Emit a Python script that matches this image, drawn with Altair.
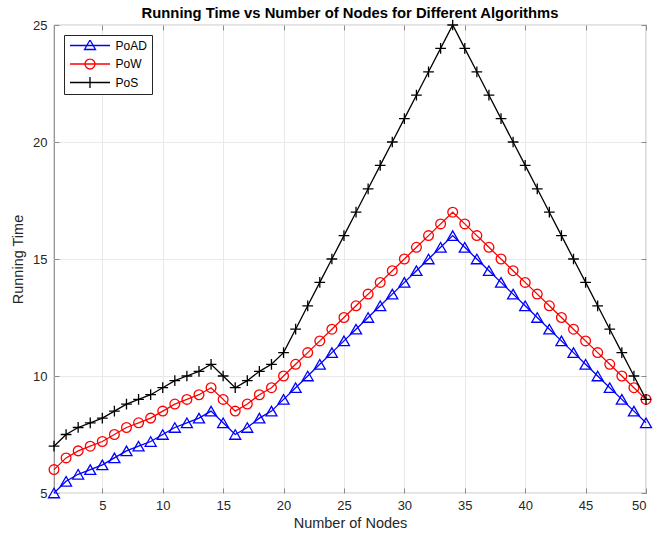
import altair as alt
import pandas as pd

# ---------------- data ----------------
series_names = ["PoAD", "PoW", "PoS"]
series_colors = ["#0000ff", "#ff0000", "#000000"]

nodes = list(range(1, 51))

poad = [5.0, 5.5, 5.8, 6.0, 6.2, 6.5, 6.8, 7.0, 7.2, 7.5,
        7.8, 8.0, 8.2, 8.5, 8.0, 7.5, 7.8, 8.2, 8.5, 9.0,
        9.5, 10.0, 10.5, 11.0, 11.5, 12.0, 12.5, 13.0, 13.5, 14.0,
        14.5, 15.0, 15.5, 16.0, 15.5, 15.0, 14.5, 14.0, 13.5, 13.0,
        12.5, 12.0, 11.5, 11.0, 10.5, 10.0, 9.5, 9.0, 8.5, 8.0]

pow_ = [6.0, 6.5, 6.8, 7.0, 7.2, 7.5, 7.8, 8.0, 8.2, 8.5,
        8.8, 9.0, 9.2, 9.5, 9.0, 8.5, 8.8, 9.2, 9.5, 10.0,
        10.5, 11.0, 11.5, 12.0, 12.5, 13.0, 13.5, 14.0, 14.5, 15.0,
        15.5, 16.0, 16.5, 17.0, 16.5, 16.0, 15.5, 15.0, 14.5, 14.0,
        13.5, 13.0, 12.5, 12.0, 11.5, 11.0, 10.5, 10.0, 9.5, 9.0]

pos = [7.0, 7.5, 7.8, 8.0, 8.2, 8.5, 8.8, 9.0, 9.2, 9.5,
       9.8, 10.0, 10.2, 10.5, 10.0, 9.5, 9.8, 10.2, 10.5, 11.0,
       12.0, 13.0, 14.0, 15.0, 16.0, 17.0, 18.0, 19.0, 20.0, 21.0,
       22.0, 23.0, 24.0, 25.0, 24.0, 23.0, 22.0, 21.0, 20.0, 19.0,
       18.0, 17.0, 16.0, 15.0, 14.0, 13.0, 12.0, 11.0, 10.0, 9.0]

x_ticks = [5, 10, 15, 20, 25, 30, 35, 40, 45, 50]
y_ticks = [5, 10, 15, 20, 25]

df = pd.DataFrame({
    "Nodes": nodes * 3,
    "Time": poad + pow_ + pos,
    "Algorithm": ["PoAD"] * 50 + ["PoW"] * 50 + ["PoS"] * 50,
})

# ---------------- styling ----------------
FONT = "Liberation Sans"
TXT = "#262626"
GRID = "#e9e9e9"
TICK = "#8a8a8a"

x_scale = alt.Scale(domain=[1, 50], nice=False, zero=False)
y_scale = alt.Scale(domain=[5, 25], nice=False, zero=False)

marker_shapes = ["triangle-up", "circle", "M-1,0H1M0,-1V1"]
marker_sizes = [121, 95, 115]

# legend symbols: a line segment with the series marker in its middle
legend_paths = [
    "M-1,0H7M3,-1.1L4.1,0.8L1.9,0.8Z",
    "M-1,0H7M4,0A1,1,0,1,1,2,0A1,1,0,1,1,4,0Z",
    "M-1,0H7M3,-1.1V1.1",
]

x_main = alt.Axis(orient="bottom", values=x_ticks, title="Number of Nodes",
                  grid=True, gridColor=GRID, gridWidth=1, domain=False,
                  ticks=True, tickSize=5, offset=-5, tickColor=TICK,
                  labelPadding=6, labelFont=FONT, labelFontSize=13,
                  labelColor=TXT, titleFont=FONT, titleFontSize=14.5,
                  titleFontWeight="normal", titleColor=TXT,
                  titleBaseline="middle", titleY=35)
y_main = alt.Axis(orient="left", values=y_ticks, title="Running Time",
                  grid=True, gridColor=GRID, gridWidth=1, domain=False,
                  ticks=True, tickSize=5, offset=-5, tickColor=TICK,
                  labelPadding=7, labelFont=FONT, labelFontSize=13,
                  labelColor=TXT, titleFont=FONT, titleFontSize=14.5,
                  titleFontWeight="normal", titleColor=TXT,
                  titleBaseline="middle", titleX=-41)
x_top = alt.Axis(orient="top", values=x_ticks, title=None, grid=False,
                 domain=False, labels=False, ticks=True, tickSize=5,
                 offset=-5, tickColor=TICK)
y_right = alt.Axis(orient="right", values=y_ticks, title=None, grid=False,
                   domain=False, labels=False, ticks=True, tickSize=5,
                   offset=-5, tickColor=TICK)

layers = []
for i, name in enumerate(series_names):
    if i == 0:
        xa, ya = x_main, y_main
    else:
        xa, ya = None, None
    line = alt.Chart(df).transform_filter(
        alt.datum.Algorithm == name
    ).mark_line(color=series_colors[i], strokeWidth=1.3).encode(
        x=alt.X("Nodes:Q", scale=x_scale, axis=xa),
        y=alt.Y("Time:Q", scale=y_scale, axis=ya),
    )
    if i == 0:
        xb, yb = x_top, y_right
    else:
        xb, yb = None, None
    pts = alt.Chart(df).transform_filter(
        alt.datum.Algorithm == name
    ).mark_point(shape=marker_shapes[i], size=marker_sizes[i], filled=False,
                 color=series_colors[i], strokeWidth=1.3, opacity=1).encode(
        x=alt.X("Nodes:Q", scale=x_scale, axis=xb),
        y=alt.Y("Time:Q", scale=y_scale, axis=yb),
    )
    layers += [line, pts]

leg = alt.Legend(orient="none", legendX=10, legendY=10, title=None,
                 fillColor="white", strokeColor=TXT, padding=5,
                 symbolSize=100, symbolStrokeWidth=1.3, labelFont=FONT,
                 labelFontSize=12, labelColor="black", labelOffset=34.5,
                 rowPadding=5.5, clipHeight=11, cornerRadius=0)

legend_layer = alt.Chart(df).transform_filter("false").mark_point(
    filled=False, opacity=1, strokeWidth=1.3
).encode(
    x=alt.X("Nodes:Q", scale=x_scale, axis=None),
    y=alt.Y("Time:Q", scale=y_scale, axis=None),
    color=alt.Color("Algorithm:N",
                    scale=alt.Scale(domain=series_names, range=series_colors),
                    legend=leg),
    shape=alt.Shape("Algorithm:N",
                    scale=alt.Scale(domain=series_names, range=legend_paths),
                    legend=leg),
)
layers.append(legend_layer)

chart = alt.layer(*layers).resolve_axis(
    x="independent", y="independent"
).properties(
    width=592, height=468,
    autosize=alt.AutoSizeParams(type="none"),
    padding={"left": 54, "top": 25, "right": 16, "bottom": 44},
    background="white",
    title=alt.TitleParams(
        "Running Time vs Number of Nodes for Different Algorithms",
        font=FONT, fontSize=14.8, fontWeight="bold", color="black",
        anchor="middle", offset=7, baseline="alphabetic", dy=23,
    ),
).configure_view(stroke="#8a8a8a", strokeWidth=1.2)

chart.save("out.html", embed_options={"renderer": "svg", "actions": False})
